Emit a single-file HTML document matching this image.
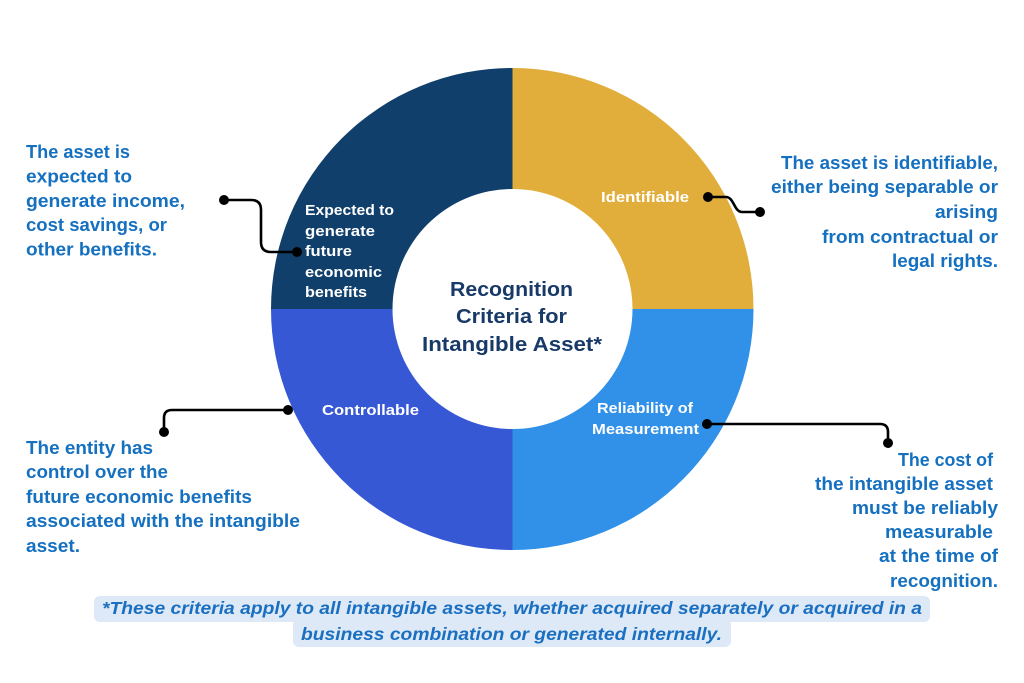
<!DOCTYPE html>
<html>
<head>
<meta charset="utf-8">
<style>
  html,body{margin:0;padding:0;background:#ffffff;}
  svg{display:block;}
  .lbl{font-family:"Liberation Sans",Arial,sans-serif;font-weight:bold;font-size:18.5px;fill:#1570c0;}
  .seg{font-family:"Liberation Sans",Arial,sans-serif;font-weight:bold;font-size:15px;fill:#ffffff;}
  .ctr{font-family:"Liberation Sans",Arial,sans-serif;font-weight:bold;font-size:20px;fill:#183a68;}
  .fn{font-family:"Liberation Sans",Arial,sans-serif;font-weight:bold;font-style:italic;font-size:17.5px;fill:#1a6fc0;}
</style>
</head>
<body>
<svg width="1024" height="683" viewBox="0 0 1024 683" xmlns="http://www.w3.org/2000/svg">
  <rect width="1024" height="683" fill="#ffffff"/>

  <!-- Donut segments -->
  <path d="M271,309 A241,241 0 0 1 512.5,68 L512.5,309 Z" fill="#113f6c"/>
  <path d="M512.5,68 A241,241 0 0 1 753.5,309 L512.5,309 Z" fill="#e1ae3b"/>
  <path d="M753.5,309 A241,241 0 0 1 512.5,550 L512.5,309 Z" fill="#3190e8"/>
  <path d="M512.5,550 A241,241 0 0 1 271,309 L512.5,309 Z" fill="#3658d5"/>
  <circle cx="512.5" cy="309" r="120" fill="#ffffff"/>

  <!-- Center text -->
  <text class="ctr" x="450" y="296" textLength="123" lengthAdjust="spacingAndGlyphs">Recognition</text>
  <text class="ctr" x="456" y="323" textLength="111" lengthAdjust="spacingAndGlyphs">Criteria for</text>
  <text class="ctr" x="422" y="351" textLength="180" lengthAdjust="spacingAndGlyphs">Intangible Asset*</text>

  <!-- Segment labels -->
  <text class="seg" x="305" y="215" textLength="89" lengthAdjust="spacingAndGlyphs">Expected to</text>
  <text class="seg" x="305" y="236" textLength="70" lengthAdjust="spacingAndGlyphs">generate</text>
  <text class="seg" x="305" y="256" textLength="47" lengthAdjust="spacingAndGlyphs">future</text>
  <text class="seg" x="305" y="277" textLength="77" lengthAdjust="spacingAndGlyphs">economic</text>
  <text class="seg" x="305" y="297" textLength="62" lengthAdjust="spacingAndGlyphs">benefits</text>

  <text class="seg" x="601" y="202" textLength="88" lengthAdjust="spacingAndGlyphs">Identifiable</text>
  <text class="seg" x="322" y="415" textLength="97" lengthAdjust="spacingAndGlyphs">Controllable</text>
  <text class="seg" x="597" y="413" textLength="96" lengthAdjust="spacingAndGlyphs">Reliability of</text>
  <text class="seg" x="592" y="434" textLength="107" lengthAdjust="spacingAndGlyphs">Measurement</text>

  <!-- Connectors -->
  <g fill="none" stroke="#000000" stroke-width="2.6" stroke-linecap="round" stroke-linejoin="round">
    <path d="M224,200 H251 Q261,200 261,210 V242 Q261,252 271,252 H297"/>
    <path d="M708,197 H726 C734,197 734,212 742,212 H760"/>
    <path d="M288,410 H172 Q164,410 164,418 V432"/>
    <path d="M707,424 H880 Q888,424 888,432 V443"/>
  </g>
  <g fill="#000000">
    <circle cx="224" cy="200" r="5"/>
    <circle cx="297" cy="252" r="5"/>
    <circle cx="708" cy="197" r="5"/>
    <circle cx="760" cy="212" r="5"/>
    <circle cx="288" cy="410" r="5"/>
    <circle cx="164" cy="432" r="5"/>
    <circle cx="707" cy="424" r="5"/>
    <circle cx="888" cy="443" r="5"/>
  </g>

  <!-- Top-left description -->
  <text class="lbl" x="26" y="158" textLength="104" lengthAdjust="spacingAndGlyphs">The asset is</text>
  <text class="lbl" x="26" y="182.5" textLength="106" lengthAdjust="spacingAndGlyphs">expected to</text>
  <text class="lbl" x="26" y="207" textLength="159" lengthAdjust="spacingAndGlyphs">generate income,</text>
  <text class="lbl" x="26" y="231" textLength="141" lengthAdjust="spacingAndGlyphs">cost savings, or</text>
  <text class="lbl" x="26" y="255.5" textLength="131" lengthAdjust="spacingAndGlyphs">other benefits.</text>

  <!-- Top-right description -->
  <text class="lbl" x="781" y="169" textLength="217" lengthAdjust="spacingAndGlyphs">The asset is identifiable,</text>
  <text class="lbl" x="771" y="193" textLength="227" lengthAdjust="spacingAndGlyphs">either being separable or</text>
  <text class="lbl" x="935" y="218" textLength="63" lengthAdjust="spacingAndGlyphs">arising</text>
  <text class="lbl" x="822" y="243" textLength="176" lengthAdjust="spacingAndGlyphs">from contractual or</text>
  <text class="lbl" x="892" y="267" textLength="106" lengthAdjust="spacingAndGlyphs">legal rights.</text>

  <!-- Bottom-left description -->
  <text class="lbl" x="26" y="454" textLength="127" lengthAdjust="spacingAndGlyphs">The entity has</text>
  <text class="lbl" x="26" y="478" textLength="142" lengthAdjust="spacingAndGlyphs">control over the</text>
  <text class="lbl" x="26" y="503" textLength="226" lengthAdjust="spacingAndGlyphs">future economic benefits</text>
  <text class="lbl" x="26" y="527" textLength="274" lengthAdjust="spacingAndGlyphs">associated with the intangible</text>
  <text class="lbl" x="26" y="552" textLength="54" lengthAdjust="spacingAndGlyphs">asset.</text>

  <!-- Bottom-right description -->
  <text class="lbl" x="898" y="466" textLength="95" lengthAdjust="spacingAndGlyphs">The cost of</text>
  <text class="lbl" x="815" y="490" textLength="178" lengthAdjust="spacingAndGlyphs">the intangible asset</text>
  <text class="lbl" x="852" y="514" textLength="146" lengthAdjust="spacingAndGlyphs">must be reliably</text>
  <text class="lbl" x="885" y="538" textLength="108" lengthAdjust="spacingAndGlyphs">measurable</text>
  <text class="lbl" x="879" y="562" textLength="119" lengthAdjust="spacingAndGlyphs">at the time of</text>
  <text class="lbl" x="890" y="587" textLength="108" lengthAdjust="spacingAndGlyphs">recognition.</text>

  <!-- Footnote -->
  <rect x="94" y="596" width="836" height="26" rx="6" fill="#dde9f6"/>
  <rect x="293" y="619" width="438" height="28" rx="6" fill="#dde9f6"/>
  <text class="fn" x="102" y="614" textLength="820" lengthAdjust="spacingAndGlyphs">*These criteria apply to all intangible assets, whether acquired separately or acquired in a</text>
  <text class="fn" x="301" y="640" textLength="421" lengthAdjust="spacingAndGlyphs">business combination or generated internally.</text>
</svg>
</body>
</html>
